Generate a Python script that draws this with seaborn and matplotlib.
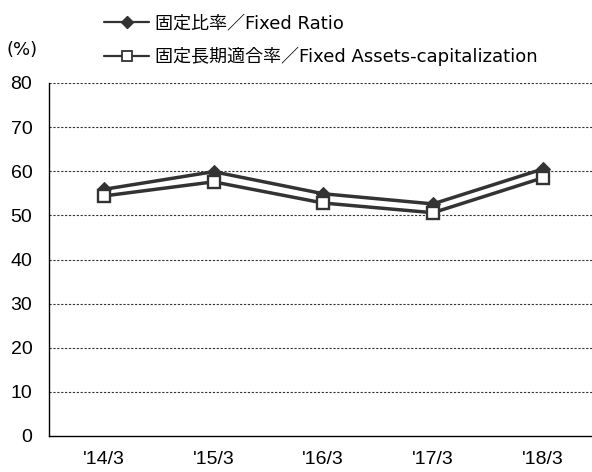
import matplotlib
matplotlib.use("Agg")
import matplotlib.pyplot as plt
import numpy as np
import pandas as pd
import seaborn as sns
from matplotlib.lines import Line2D
from matplotlib.ticker import FixedLocator

# ============================================================
# DATA
# ============================================================

periods      = ["'14/3", "'15/3", "'16/3", "'17/3", "'18/3"]
fixed_ratio  = [55.9, 59.9, 54.9, 52.6, 60.5]
fixed_assets = [54.4, 57.6, 52.8, 50.6, 58.5]
series_names = ["固定比率／Fixed Ratio", "固定長期適合率／Fixed Assets-capitalization"]
y_ticks      = [0, 10, 20, 30, 40, 50, 60, 70, 80]

LINE_COLOR = "#333333"

# ============================================================
# PLOT
# ============================================================

sns.set_style("white")
plt.rcParams["font.family"] = ["Liberation Sans", "Noto Sans CJK JP", "DejaVu Sans"]
plt.rcParams["text.color"] = "black"
plt.rcParams["xtick.color"] = "black"
plt.rcParams["ytick.color"] = "black"

fig = plt.figure(figsize=(5.92, 4.72), dpi=100)
ax = fig.add_axes([49 / 592, 1 - 436 / 472, 1 - 49 / 592, (436 - 83) / 472])

df = pd.DataFrame({"period": periods, "ratio": fixed_ratio, "assets": fixed_assets})

sns.lineplot(data=df, x="period", y="ratio", ax=ax, color=LINE_COLOR, lw=2.5,
             marker="D", markersize=7, markerfacecolor=LINE_COLOR,
             markeredgecolor=LINE_COLOR, sort=False)
sns.lineplot(data=df, x="period", y="assets", ax=ax, color=LINE_COLOR, lw=2.5,
             marker="s", markersize=9, markerfacecolor="white",
             markeredgecolor=LINE_COLOR, markeredgewidth=1.7, sort=False)

ax.set_ylim(0, 80)
ax.set_xlim(-0.5, 4.45)
ax.set_yticks(y_ticks)
ax.set_yticklabels([str(v) for v in y_ticks], fontsize=14)
ax.set_xticks(range(len(periods)))
ax.set_xticklabels(periods, fontsize=14)
ax.xaxis.set_minor_locator(FixedLocator([0.5, 1.5, 2.5, 3.5]))
ax.tick_params(axis="x", which="major", length=0, pad=11)
ax.tick_params(axis="x", which="minor", direction="in", length=5, width=0.8, color="#555555")
ax.tick_params(axis="y", length=0, pad=12)
ax.set_xlabel("")
ax.set_ylabel("")

for v in y_ticks[1:]:
    ax.axhline(v, color="#333333", lw=0.8, ls=(0, (2, 1.5)), zorder=0)

for side in ["top", "right"]:
    ax.spines[side].set_visible(False)
for side in ["left", "bottom"]:
    ax.spines[side].set_color("black")
    ax.spines[side].set_linewidth(1.0)

# legend with thinner lines like the original
handles = [
    Line2D([], [], color=LINE_COLOR, lw=1.6, marker="D", markersize=6,
           markerfacecolor=LINE_COLOR, markeredgecolor=LINE_COLOR),
    Line2D([], [], color=LINE_COLOR, lw=1.6, marker="s", markersize=7,
           markerfacecolor="white", markeredgecolor=LINE_COLOR, markeredgewidth=1.3),
]
fig.legend(handles, series_names, loc="upper left", bbox_to_anchor=(88 / 592, 1 + 2 / 472),
           frameon=False, handlelength=2.5, labelspacing=0.8, handletextpad=0.3,
           prop={"family": ["DejaVu Sans", "Noto Sans CJK JP"], "size": 13})

fig.text(6 / 592, 1 - 50 / 472, "(%)", fontsize=13, va="center", ha="left",
         family=["DejaVu Sans", "Noto Sans CJK JP"])

fig.savefig("out.png", dpi=100)
